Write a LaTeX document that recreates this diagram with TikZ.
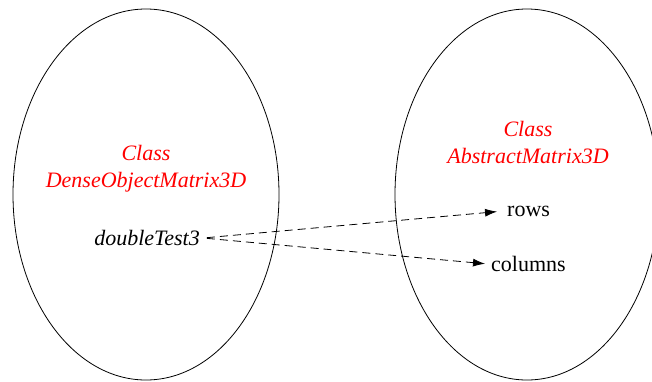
\documentclass[tikz,border=0pt]{standalone}
\usepackage{fontspec}
\setmainfont{Liberation Serif}
\usetikzlibrary{arrows.meta}
\begin{document}
\begin{tikzpicture}[x=1pt,y=-1pt,
  classell/.style={draw, line width=0.8pt},
  lbl/.style={font=\fontsize{22}{27}\selectfont, inner sep=3pt, align=center},
  cls/.style={lbl, text=red, font=\fontsize{22}{27}\selectfont\itshape},
  ref/.style={line width=0.8pt, dash pattern=on 8pt off 5pt, shorten <=4pt, -{Latex[length=12pt,width=8pt]}}]
\useasboundingbox (0,0) rectangle (652,381);
\draw[classell] (146,194.5) ellipse [x radius=133, y radius=185.5];
\draw[classell] (527,194.5) ellipse [x radius=132, y radius=185.5];
\node[cls] (c1) at (146,169) {Class\\DenseObjectMatrix3D};
\node[cls] (c2) at (528,142) {Class\\AbstractMatrix3D};
\node[lbl, font=\fontsize{22}{27}\selectfont\itshape, anchor=east] (d) at (203,238) {doubleTest3};
\node[lbl, anchor=west] (rows) at (504,211) {rows};
\node[lbl, anchor=west] (cols) at (488,264) {columns};
\draw[ref, shorten >=7pt] (d.east) -- (rows.west);
\draw[ref, shorten >=3pt] (d.east) -- (cols.west);
\end{tikzpicture}
\end{document}
